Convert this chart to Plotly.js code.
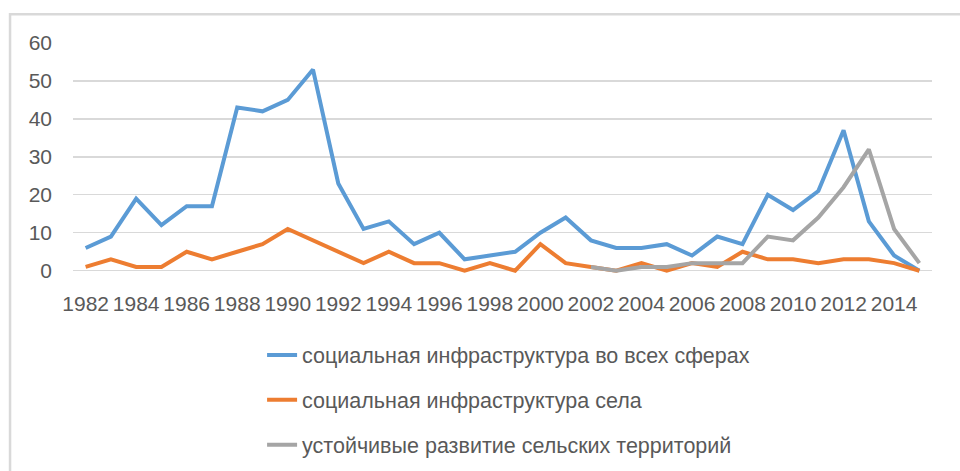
<!DOCTYPE html>
<html>
<head>
<meta charset="utf-8">
<script src="https://cdn.plot.ly/plotly-3.0.1.min.js"></script>
<style>html,body{margin:0;padding:0;background:#fff;}#chart{width:960px;height:471px;}</style>
</head>
<body>
<div id="chart"></div>
<script>
const years = ["1982","1983","1984","1985","1986","1987","1988","1989","1990","1991","1992","1993","1994","1995","1996","1997","1998","1999","2000","2001","2002","2003","2004","2005","2006","2007","2008","2009","2010","2011","2012","2013","2014","2015"];
const tickYears = ["1982","1984","1986","1988","1990","1992","1994","1996","1998","2000","2002","2004","2006","2008","2010","2012","2014"];
const seriesNames = ["социальная инфраструктура во всех сферах","социальная инфраструктура села","устойчивые развитие сельских территорий"];
const socialAll = [6,9,19,12,17,17,43,42,45,53,23,11,13,7,10,3,4,5,10,14,8,6,6,7,4,9,7,20,16,21,37,13,4,0];
const socialRural = [1,3,1,1,5,3,5,7,11,8,5,2,5,2,2,0,2,0,7,2,1,0,2,0,2,1,5,3,3,2,3,3,2,0];
const sustainable = [null,null,null,null,null,null,null,null,null,null,null,null,null,null,null,null,null,null,null,null,1,0,1,1,2,2,2,9,8,14,22,32,11,2];
const yTicks = [0,10,20,30,40,50,60];

const colors = ["#5B9BD5","#ED7D31","#A5A5A5"];
const allSeries = [socialAll, socialRural, sustainable];
const traces = allSeries.map((vals, i) => ({
  type: "scatter", mode: "lines", x: years, y: vals, name: seriesNames[i],
  legendgroup: "g" + i, connectgaps: false,
  line: {color: colors[i], width: 4, shape: "linear"}, hoverinfo: "x+y"
}));

const layout = {
  width: 960, height: 471,
  margin: {l: 73, r: 28, t: 43, b: 198, autoexpand: false},
  paper_bgcolor: "#ffffff", plot_bgcolor: "#ffffff",
  font: {family: "Liberation Sans, Arial, sans-serif", color: "#595959"},
  showlegend: true,
  legend: {
    xref: "container", yref: "container", x: 0.273, y: 0.29, xanchor: "left", yanchor: "top",
    orientation: "v", traceorder: "grouped", tracegroupgap: 14,
    font: {size: 21.5, color: "#595959", family: "Liberation Sans, Arial, sans-serif"},
    bgcolor: "rgba(0,0,0,0)", itemwidth: 30
  },
  xaxis: {
    type: "category", categoryorder: "array", categoryarray: years,
    range: [-0.5, years.length - 0.5],
    tickmode: "array", tickvals: tickYears, ticktext: tickYears,
    showgrid: false, zeroline: false, showline: false, ticks: "",
    tickangle: 0, ticklabelstandoff: 16,
    tickfont: {size: 21, color: "#595959"}
  },
  yaxis: {
    range: [-0.6, 60], tickmode: "array", tickvals: yTicks,
    showgrid: true, gridcolor: "#d9d9d9", gridwidth: 1.3,
    zeroline: true, zerolinecolor: "#d9d9d9", zerolinewidth: 1.3,
    showline: false, ticks: "", ticklabelstandoff: 20,
    tickfont: {size: 21, color: "#595959"}
  },
  shapes: [{
    type: "rect", xref: "paper", yref: "paper",
    x0: -0.0733, x1: 1.06, y0: -0.93, y1: 1.1246,
    line: {color: "#d9d9d9", width: 2.5}, fillcolor: "rgba(0,0,0,0)", layer: "below"
  }]
};

Plotly.newPlot("chart", traces, layout, {displayModeBar: false, staticPlot: true});
</script>
</body>
</html>
